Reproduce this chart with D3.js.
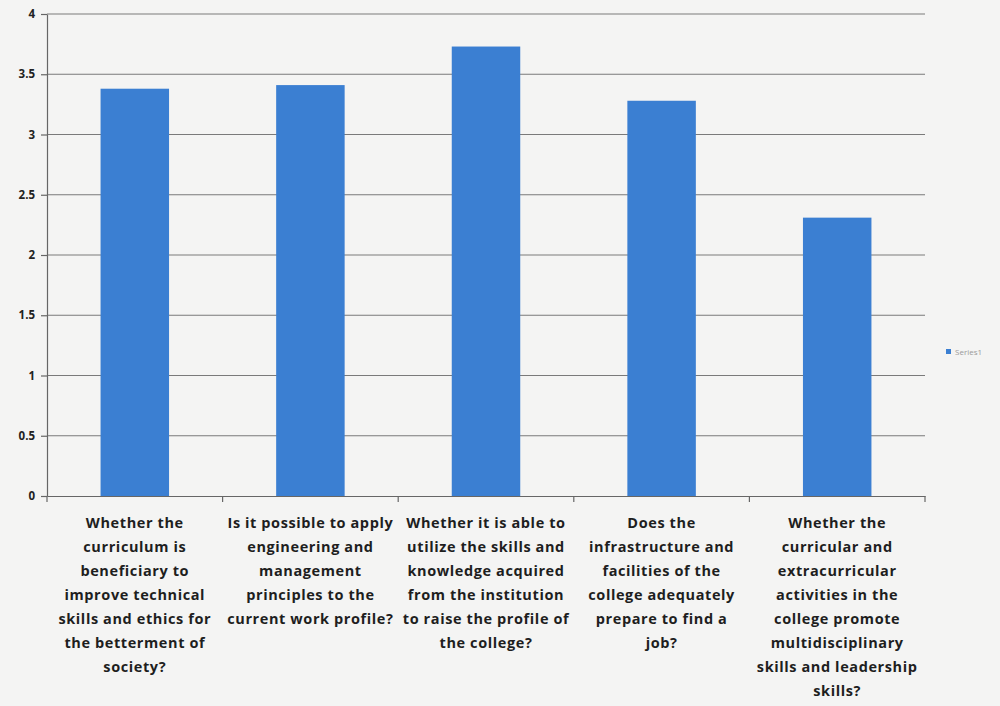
<!DOCTYPE html>
<html><head><meta charset="utf-8">
<script src="https://cdn.jsdelivr.net/npm/d3@7"></script>
<style>
html,body{margin:0;padding:0;background:#f4f4f3;}
svg{display:block;}
</style></head>
<body>
<svg id="c" width="1000" height="706"></svg>
<script>
const categories = [
  "Whether the curriculum is beneficiary to improve technical skills and ethics for the betterment of society?",
  "Is it possible to apply engineering and management principles to the current work profile?",
  "Whether it is able to utilize the skills and knowledge acquired from the institution to raise the profile of the college?",
  "Does the infrastructure and facilities of the college adequately prepare to find a job?",
  "Whether the curricular and extracurricular activities in the college promote multidisciplinary skills and leadership skills?"
];
const labelLines = [
  ["Whether the","curriculum is","beneficiary to","improve technical","skills and ethics for","the betterment of","society?"],
  ["Is it possible to apply","engineering and","management","principles to the","current work profile?"],
  ["Whether it is able to","utilize the skills and","knowledge acquired","from the institution","to raise the profile of","the college?"],
  ["Does the","infrastructure and","facilities of the","college adequately","prepare to find a","job?"],
  ["Whether the","curricular and","extracurricular","activities in the","college promote","multidisciplinary","skills and leadership","skills?"]
];
const series1 = [3.38, 3.41, 3.73, 3.28, 2.31];
const yTicks = [0, 0.5, 1, 1.5, 2, 2.5, 3, 3.5, 4];
const seriesName = "Series1";

const svg = d3.select("#c");
const mLeft = 47, mRight = 925, mTop = 14, mBottom = 496;

const x = d3.scaleBand().domain(categories).range([mLeft, mRight]).paddingInner(0.61).paddingOuter(0.305);
const y = d3.scaleLinear().domain([0, 4]).range([mBottom, mTop]);

// gridlines
svg.append("g").selectAll("line").data(yTicks.filter(d => d > 0)).join("line")
  .attr("x1", mLeft).attr("x2", mRight)
  .attr("y1", d => y(d)).attr("y2", d => y(d))
  .attr("stroke", "#7a7a7a").attr("stroke-width", 1.2);

// bars
svg.append("g").selectAll("rect").data(series1).join("rect")
  .attr("x", (d, i) => x(categories[i]))
  .attr("width", x.bandwidth())
  .attr("y", d => y(d))
  .attr("height", d => y(0) - y(d))
  .attr("fill", "#3b7fd2");

// y axis
const yAxis = svg.append("g").attr("transform", `translate(${mLeft},0)`)
  .call(d3.axisLeft(y).tickValues(yTicks).tickSize(6).tickSizeOuter(0).tickPadding(6)
    .tickFormat(d => d3.format("")(d)));
yAxis.select(".domain").attr("stroke", "#666").attr("stroke-width", 1.2);
yAxis.selectAll(".tick line").attr("stroke", "#666").attr("stroke-width", 1.2);
yAxis.selectAll(".tick text").attr("fill", "#222").attr("font-family", "'Open Sans', sans-serif")
  .attr("font-weight", 700).attr("font-size", 11.5);

// x axis
const xAxis = svg.append("g").attr("transform", `translate(0,${mBottom})`)
  .call(d3.axisBottom(x).tickSize(0).tickFormat(""));
xAxis.select(".domain").attr("stroke", "#666").attr("stroke-width", 1.2);
xAxis.selectAll(".tick").remove();
const bounds = categories.map(c => x(c) - x.step() * x.paddingInner() / 2).concat([mRight]);
xAxis.selectAll("line.b").data(bounds).join("line").attr("class", "b")
  .attr("x1", d => d).attr("x2", d => d).attr("y1", 0).attr("y2", 6)
  .attr("stroke", "#666").attr("stroke-width", 1.2);

// category labels
const lab = svg.append("g");
categories.forEach((c, i) => {
  const cx = x(c) + x.bandwidth() / 2;
  const t = lab.append("text").attr("text-anchor", "middle")
    .attr("font-family", "'Open Sans', sans-serif").attr("font-weight", 700)
    .attr("font-size", 14.5).attr("letter-spacing", 0.6).attr("fill", "#1e1e1e");
  labelLines[i].forEach((ln, k) => {
    t.append("tspan").attr("x", cx).attr("y", 528 + k * 24).text(ln);
  });
});

// legend
const lg = svg.append("g").attr("transform", "translate(946,349)");
lg.append("rect").attr("width", 5).attr("height", 5).attr("fill", "#3b7fd2");
lg.append("text").attr("x", 9).attr("y", 5.5).attr("font-family", "'Open Sans', sans-serif")
  .attr("font-size", 8).attr("fill", "#9a9a9a").text(seriesName);
</script>
</body></html>
